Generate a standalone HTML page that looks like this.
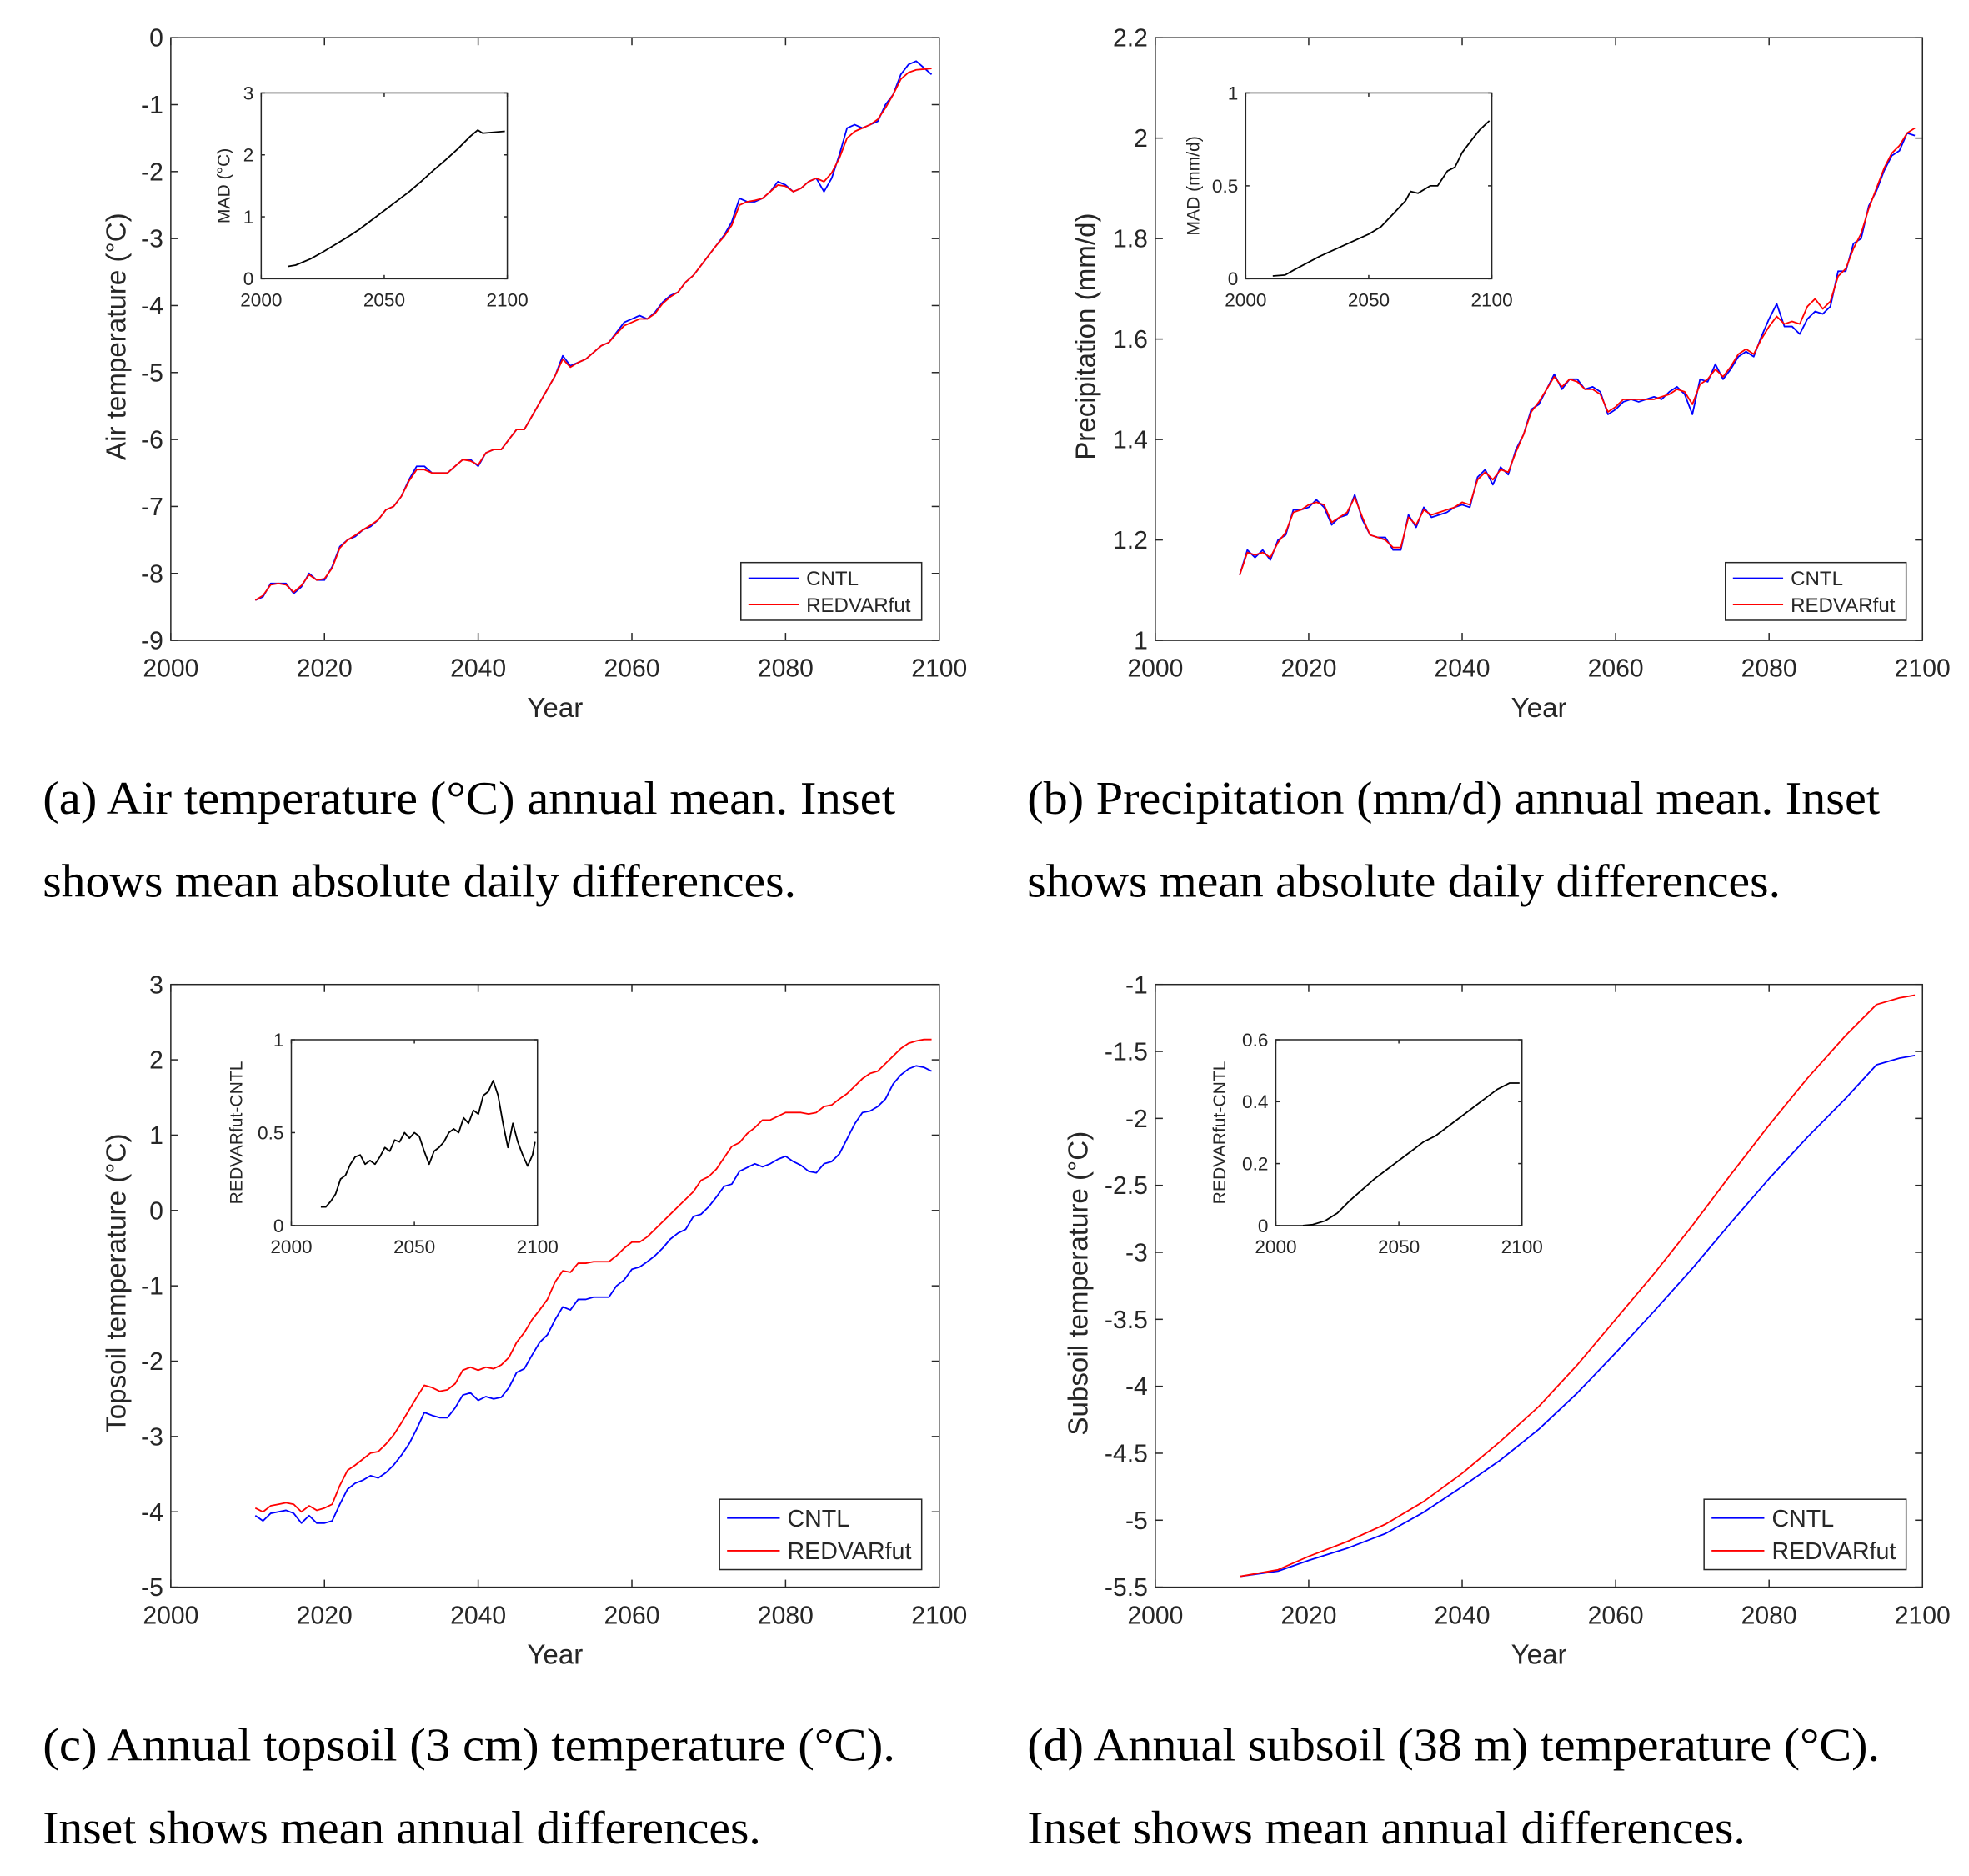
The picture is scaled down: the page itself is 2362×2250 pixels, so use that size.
<!DOCTYPE html>
<html><head><meta charset="utf-8"><style>
html,body{margin:0;padding:0;background:#fff;}
svg{display:block;}
text{font-family:"Liberation Sans",sans-serif;fill:#262626;}
.cap{font-family:"Liberation Serif",serif;fill:#000;font-size:37px;}
</style></head><body>
<svg id="fig" xmlns="http://www.w3.org/2000/svg" width="2362" height="2250" viewBox="0 0 1568 1494" preserveAspectRatio="none">
<text class="cap" x="34" y="648" textLength="679" lengthAdjust="spacingAndGlyphs">(a) Air temperature (°C) annual mean. Inset</text>
<text class="cap" x="34" y="714" textLength="600" lengthAdjust="spacingAndGlyphs">shows mean absolute daily differences.</text>
<text class="cap" x="818" y="648" textLength="679" lengthAdjust="spacingAndGlyphs">(b) Precipitation (mm/d) annual mean. Inset</text>
<text class="cap" x="818" y="714" textLength="600" lengthAdjust="spacingAndGlyphs">shows mean absolute daily differences.</text>
<text class="cap" x="34" y="1402" textLength="679" lengthAdjust="spacingAndGlyphs">(c) Annual topsoil (3 cm) temperature (°C).</text>
<text class="cap" x="34" y="1468" textLength="572" lengthAdjust="spacingAndGlyphs">Inset shows mean annual differences.</text>
<text class="cap" x="818" y="1402" textLength="679" lengthAdjust="spacingAndGlyphs">(d) Annual subsoil (38 m) temperature (°C).</text>
<text class="cap" x="818" y="1468" textLength="572" lengthAdjust="spacingAndGlyphs">Inset shows mean annual differences.</text>
</svg>
<script>
// ---------- data ----------
const yearsAnnual = []; for (let y = 2011; y <= 2099; y++) yearsAnnual.push(y);
const airCntl = [-8.4,-8.35,-8.15,-8.15,-8.15,-8.3,-8.2,-8.0,-8.1,-8.1,-7.9,-7.6,-7.5,-7.45,-7.35,-7.3,-7.2,-7.05,-7.0,-6.85,-6.6,-6.4,-6.4,-6.5,-6.5,-6.5,-6.4,-6.3,-6.3,-6.4,-6.2,-6.15,-6.15,-6.0,-5.85,-5.85,-5.65,-5.45,-5.25,-5.05,-4.75,-4.9,-4.85,-4.8,-4.7,-4.6,-4.55,-4.4,-4.25,-4.2,-4.15,-4.2,-4.1,-3.95,-3.85,-3.8,-3.65,-3.55,-3.4,-3.25,-3.1,-2.95,-2.75,-2.4,-2.45,-2.45,-2.4,-2.3,-2.15,-2.2,-2.3,-2.25,-2.15,-2.1,-2.3,-2.1,-1.75,-1.35,-1.3,-1.35,-1.3,-1.25,-1.0,-0.85,-0.55,-0.4,-0.35,-0.45,-0.55];
const airRed = [-8.4,-8.33,-8.17,-8.15,-8.17,-8.28,-8.18,-8.02,-8.1,-8.08,-7.92,-7.62,-7.5,-7.43,-7.35,-7.28,-7.2,-7.05,-7.0,-6.85,-6.62,-6.45,-6.45,-6.5,-6.5,-6.5,-6.4,-6.3,-6.32,-6.38,-6.2,-6.15,-6.15,-6.0,-5.85,-5.85,-5.65,-5.45,-5.25,-5.05,-4.8,-4.92,-4.85,-4.8,-4.7,-4.6,-4.55,-4.42,-4.3,-4.25,-4.2,-4.2,-4.12,-3.97,-3.87,-3.8,-3.65,-3.55,-3.4,-3.25,-3.1,-2.97,-2.8,-2.5,-2.45,-2.43,-2.4,-2.3,-2.2,-2.22,-2.3,-2.25,-2.15,-2.1,-2.15,-2.02,-1.8,-1.5,-1.4,-1.35,-1.3,-1.22,-1.05,-0.85,-0.62,-0.52,-0.48,-0.47,-0.46];
const precCntl = [1.13,1.18,1.165,1.18,1.16,1.2,1.21,1.26,1.26,1.265,1.28,1.265,1.23,1.245,1.25,1.29,1.24,1.21,1.205,1.205,1.18,1.18,1.25,1.225,1.265,1.245,1.25,1.255,1.265,1.27,1.265,1.325,1.34,1.31,1.345,1.33,1.38,1.41,1.46,1.47,1.5,1.53,1.5,1.52,1.52,1.5,1.505,1.495,1.45,1.46,1.475,1.48,1.475,1.48,1.485,1.48,1.495,1.505,1.49,1.45,1.52,1.515,1.55,1.52,1.54,1.565,1.575,1.565,1.605,1.64,1.67,1.625,1.625,1.61,1.64,1.655,1.65,1.665,1.735,1.735,1.79,1.8,1.865,1.895,1.935,1.965,1.975,2.01,2.005];
const precRed = [1.13,1.175,1.17,1.175,1.165,1.195,1.215,1.255,1.26,1.27,1.275,1.27,1.235,1.245,1.255,1.285,1.245,1.21,1.205,1.2,1.185,1.185,1.245,1.23,1.26,1.25,1.255,1.26,1.265,1.275,1.27,1.32,1.335,1.32,1.34,1.335,1.375,1.41,1.455,1.475,1.5,1.525,1.505,1.52,1.515,1.5,1.5,1.49,1.455,1.465,1.48,1.48,1.48,1.48,1.48,1.485,1.49,1.5,1.495,1.47,1.51,1.52,1.54,1.525,1.545,1.57,1.58,1.57,1.6,1.625,1.645,1.63,1.635,1.63,1.665,1.68,1.66,1.675,1.725,1.74,1.78,1.81,1.86,1.9,1.94,1.97,1.985,2.01,2.02];
const topRed = [-3.95,-4.0,-3.92,-3.9,-3.88,-3.9,-4.0,-3.92,-3.98,-3.95,-3.9,-3.65,-3.45,-3.38,-3.3,-3.22,-3.2,-3.1,-2.98,-2.82,-2.65,-2.48,-2.32,-2.35,-2.4,-2.38,-2.3,-2.12,-2.08,-2.12,-2.08,-2.1,-2.05,-1.95,-1.75,-1.62,-1.45,-1.32,-1.18,-0.95,-0.8,-0.82,-0.7,-0.7,-0.68,-0.68,-0.68,-0.6,-0.5,-0.42,-0.42,-0.35,-0.25,-0.15,-0.05,0.05,0.15,0.25,0.4,0.45,0.55,0.7,0.85,0.9,1.02,1.1,1.2,1.2,1.25,1.3,1.3,1.3,1.28,1.3,1.38,1.4,1.48,1.55,1.65,1.75,1.82,1.85,1.95,2.05,2.15,2.22,2.25,2.27,2.27];
const topCntl = [-4.05,-4.12,-4.02,-4.0,-3.98,-4.02,-4.15,-4.05,-4.15,-4.15,-4.12,-3.9,-3.7,-3.62,-3.58,-3.52,-3.55,-3.48,-3.38,-3.25,-3.1,-2.9,-2.68,-2.72,-2.75,-2.75,-2.62,-2.45,-2.42,-2.52,-2.47,-2.5,-2.48,-2.35,-2.15,-2.1,-1.92,-1.75,-1.65,-1.45,-1.28,-1.32,-1.18,-1.18,-1.15,-1.15,-1.15,-1.0,-0.92,-0.78,-0.75,-0.68,-0.6,-0.5,-0.38,-0.3,-0.25,-0.08,-0.05,0.05,0.18,0.32,0.35,0.52,0.57,0.62,0.58,0.62,0.68,0.72,0.65,0.6,0.52,0.5,0.62,0.65,0.75,0.95,1.15,1.3,1.32,1.38,1.48,1.68,1.8,1.88,1.92,1.9,1.85];
const subYears = [2011,2016,2020,2025,2030,2035,2040,2045,2050,2055,2060,2065,2070,2075,2080,2085,2090,2094,2097,2099];
const subRed = [-5.42,-5.37,-5.27,-5.16,-5.03,-4.86,-4.65,-4.41,-4.15,-3.84,-3.5,-3.16,-2.8,-2.42,-2.05,-1.7,-1.38,-1.15,-1.1,-1.08];
const subCntl = [-5.42,-5.38,-5.3,-5.21,-5.1,-4.94,-4.75,-4.55,-4.32,-4.05,-3.75,-3.44,-3.12,-2.78,-2.45,-2.14,-1.85,-1.6,-1.55,-1.53];
const insAYears = [2011,2014,2020,2025,2030,2035,2040,2045,2050,2055,2060,2065,2070,2075,2080,2085,2088,2090,2099];
const insAVals = [0.2,0.22,0.32,0.43,0.55,0.67,0.8,0.95,1.1,1.25,1.4,1.57,1.75,1.92,2.1,2.3,2.4,2.35,2.38];
const insBYears = [2011,2016,2020,2030,2040,2050,2055,2060,2065,2067,2070,2075,2078,2082,2085,2088,2092,2095,2099];
const insBVals = [0.015,0.02,0.05,0.12,0.18,0.24,0.28,0.35,0.42,0.47,0.46,0.5,0.5,0.58,0.6,0.68,0.75,0.8,0.85];
const insCYears = [2012,2014,2016,2018,2020,2022,2024,2026,2028,2030,2032,2034,2036,2038,2040,2042,2044,2046,2048,2050,2052,2054,2056,2058,2060,2062,2064,2066,2068,2070,2072,2074,2076,2078,2080,2082,2084,2086,2088,2090,2092,2094,2096,2098,2099];
const insCVals = [0.1,0.1,0.13,0.17,0.25,0.27,0.33,0.37,0.38,0.33,0.35,0.33,0.37,0.42,0.4,0.46,0.45,0.5,0.47,0.5,0.48,0.4,0.33,0.4,0.42,0.45,0.5,0.52,0.5,0.58,0.55,0.62,0.6,0.7,0.72,0.78,0.7,0.55,0.42,0.55,0.45,0.38,0.32,0.38,0.45];
const insDYears = [2011,2015,2020,2025,2030,2035,2040,2045,2050,2055,2060,2065,2070,2075,2080,2085,2090,2095,2099];
const insDVals = [0,0.003,0.015,0.04,0.08,0.115,0.15,0.18,0.21,0.24,0.27,0.29,0.32,0.35,0.38,0.41,0.44,0.46,0.46];
const xTicks = [2000,2020,2040,2060,2080,2100];
const insXTicks = [2000,2050,2100];
const aYTicks = [0,-1,-2,-3,-4,-5,-6,-7,-8,-9];
const bYTicks = [1,1.2,1.4,1.6,1.8,2,2.2];
const cYTicks = [3,2,1,0,-1,-2,-3,-4,-5];
const dYTicks = [-1,-1.5,-2,-2.5,-3,-3.5,-4,-4.5,-5,-5.5];

// ---------- drawing ----------
const NS = "http://www.w3.org/2000/svg";
const svg = document.getElementById('fig');
function mk(tag, attrs, parent) {
  const e = document.createElementNS(NS, tag);
  for (const k in attrs) e.setAttribute(k, attrs[k]);
  (parent || svg).appendChild(e);
  return e;
}
function axes(o) {
  const g = mk('g', {});
  
  
  const sx = v => o.x0 + (v - o.xmin) / (o.xmax - o.xmin) * (o.x1 - o.x0);
  const sy = v => o.y1 - (v - o.ymin) / (o.ymax - o.ymin) * (o.y1 - o.y0);
  mk('rect', {x:o.x0, y:o.y0, width:o.x1-o.x0, height:o.y1-o.y0, fill:'#fff', stroke:'#262626', 'stroke-width':1}, g);
  const tl = o.tick;
  o.xticks.forEach(t => {
    const x = sx(t);
    mk('line', {x1:x, x2:x, y1:o.y1, y2:o.y1-tl, stroke:'#262626'}, g);
    mk('line', {x1:x, x2:x, y1:o.y0, y2:o.y0+tl, stroke:'#262626'}, g);
    const tx = mk('text', {x:x, y:o.y1+o.fs+o.xoff, 'font-size':o.fs, 'text-anchor':'middle'}, g);
    tx.textContent = t;
    
    
  });
  o.yticks.forEach(t => {
    const y = sy(t);
    mk('line', {x1:o.x0, x2:o.x0+tl, y1:y, y2:y, stroke:'#262626'}, g);
    mk('line', {x1:o.x1, x2:o.x1-tl, y1:y, y2:y, stroke:'#262626'}, g);
    const tx = mk('text', {x:o.x0-6, y:y+o.fs*0.35, 'font-size':o.fs, 'text-anchor':'end'}, g);
    tx.textContent = t;
    
    
  });
  if (o.xlabel) {
    const t = mk('text', {x:(o.x0+o.x1)/2, y:o.y1+61, 'font-size':22, 'text-anchor':'middle'}, g);
    t.textContent = o.xlabel;
    
    
  }
  if (o.ylabel) {
    const cx = o.ylx, cy = o.ylc || (o.y0+o.y1)/2;
    const t = mk('text', {x:cx, y:cy, 'font-size':o.ylfs, 'text-anchor':'middle', transform:`rotate(-90 ${cx} ${cy})`}, g);
    t.textContent = o.ylabel;
    
    
  }
  o.series.forEach(s => {
    const d = s.xs.map((x, i) => (i ? 'L' : 'M') + sx(x).toFixed(2) + ' ' + sy(s.ys[i]).toFixed(2)).join('');
    const p = mk('path', {d:d, fill:'none', stroke:s.color, 'stroke-width':s.w || 1.2, 'stroke-linejoin':'round'}, g);
    
    
  });
  if (o.legend) {
    const L = o.legend;
    const lg = mk('g', {}, g);
    
    
    mk('rect', {x:L.x, y:L.y, width:L.w, height:L.h, fill:'#fff', stroke:'#262626'}, lg);
    L.items.forEach((it, i) => {
      const y = L.y + L.h * (i + 0.5) / 2 + (i ? -1 : 1);
      mk('line', {x1:L.x+6, x2:L.x+6+L.ll, y1:y, y2:y, stroke:it.c, 'stroke-width':1.2}, lg);
      const t = mk('text', {x:L.x+12+L.ll, y:y+L.fs*0.36, 'font-size':L.fs}, lg);
      t.textContent = it.t;
      
      
    });
  }
}
const B = '#0000ff', R = '#ff0000', K = '#000';
const leg = (x, y, w, h, fs, ll) => ({x, y, w, h, fs, ll, items:[{t:'CNTL', c:B}, {t:'REDVARfut', c:R}]});

axes({name:'panel-a-air-temperature', x0:136, x1:748, y0:30, y1:510, xmin:2000, xmax:2100, ymin:-9, ymax:0, xticks:xTicks, yticks:aYTicks, fs:20, xoff:9, tick:6, xlabel:'Year', ylabel:'Air temperature (°C)', ylx:100, ylfs:22, ylc:268,
  series:[{xs:yearsAnnual, ys:airCntl, color:B, name:'air-cntl-line'}, {xs:yearsAnnual, ys:airRed, color:R, name:'air-redvarfut-line'}], legend:leg(590, 448, 144, 46, 16, 40)});
axes({name:'panel-a-inset', x0:208, x1:404, y0:74, y1:222, xmin:2000, xmax:2100, ymin:0, ymax:3, xticks:insXTicks, yticks:[0,1,2,3], fs:15, xoff:7, tick:3, ylabel:'MAD (°C)', ylx:183, ylfs:14,
  series:[{xs:insAYears, ys:insAVals, color:K, name:'air-mad-line'}]});

axes({name:'panel-b-precipitation', x0:920, x1:1531, y0:30, y1:510, xmin:2000, xmax:2100, ymin:1, ymax:2.2, xticks:xTicks, yticks:bYTicks, fs:20, xoff:9, tick:6, xlabel:'Year', ylabel:'Precipitation (mm/d)', ylx:872, ylfs:22, ylc:268,
  series:[{xs:yearsAnnual, ys:precCntl, color:B, name:'precip-cntl-line'}, {xs:yearsAnnual, ys:precRed, color:R, name:'precip-redvarfut-line'}], legend:leg(1374, 448, 144, 46, 16, 40)});
axes({name:'panel-b-inset', x0:992, x1:1188, y0:74, y1:222, xmin:2000, xmax:2100, ymin:0, ymax:1, xticks:insXTicks, yticks:[0,0.5,1], fs:15, xoff:7, tick:3, ylabel:'MAD (mm/d)', ylx:955, ylfs:14,
  series:[{xs:insBYears, ys:insBVals, color:K, name:'precip-mad-line'}]});

axes({name:'panel-c-topsoil', x0:136, x1:748, y0:784, y1:1264, xmin:2000, xmax:2100, ymin:-5, ymax:3, xticks:xTicks, yticks:cYTicks, fs:20, xoff:9, tick:6, xlabel:'Year', ylabel:'Topsoil temperature (°C)', ylx:100, ylfs:22, ylc:1022,
  series:[{xs:yearsAnnual, ys:topCntl, color:B, name:'topsoil-cntl-line'}, {xs:yearsAnnual, ys:topRed, color:R, name:'topsoil-redvarfut-line'}], legend:leg(573, 1194, 161, 56, 19, 42)});
axes({name:'panel-c-inset', x0:232, x1:428, y0:828, y1:976, xmin:2000, xmax:2100, ymin:0, ymax:1, xticks:insXTicks, yticks:[0,0.5,1], fs:15, xoff:7, tick:3, ylabel:'REDVARfut-CNTL', ylx:193, ylfs:14,
  series:[{xs:insCYears, ys:insCVals, color:K, name:'topsoil-diff-line'}]});

axes({name:'panel-d-subsoil', x0:920, x1:1531, y0:784, y1:1264, xmin:2000, xmax:2100, ymin:-5.5, ymax:-1, xticks:xTicks, yticks:dYTicks, fs:20, xoff:9, tick:6, xlabel:'Year', ylabel:'Subsoil temperature (°C)', ylx:866, ylfs:22, ylc:1022,
  series:[{xs:subYears, ys:subCntl, color:B, name:'subsoil-cntl-line'}, {xs:subYears, ys:subRed, color:R, name:'subsoil-redvarfut-line'}], legend:leg(1357, 1194, 161, 56, 19, 42)});
axes({name:'panel-d-inset', x0:1016, x1:1212, y0:828, y1:976, xmin:2000, xmax:2100, ymin:0, ymax:0.6, xticks:insXTicks, yticks:[0,0.2,0.4,0.6], fs:15, xoff:7, tick:3, ylabel:'REDVARfut-CNTL', ylx:976, ylfs:14,
  series:[{xs:insDYears, ys:insDVals, color:K, name:'subsoil-diff-line'}]});
</script>
</body></html>
